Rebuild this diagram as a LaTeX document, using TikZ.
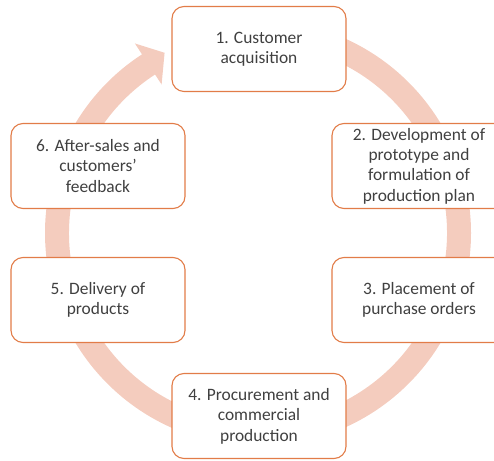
\documentclass[tikz,border=0pt]{standalone}
\usepackage{fontspec}
\setmainfont{Carlito}
\usepackage{xcolor}
\definecolor{stageline}{RGB}{226,124,72}
\definecolor{ringfill}{RGB}{244,204,190}
\definecolor{textgray}{RGB}{64,64,64}

\begin{document}
\begin{tikzpicture}[x=1pt,y=1pt,
    stage/.style={draw=stageline,line width=1.1pt,fill=white,rounded corners=12pt,
      minimum width=174pt,minimum height=85pt,align=center,text=textgray,
      font=\fontsize{17.4}{20.4}\selectfont}]
    % Page frame
    \useasboundingbox (0,0) rectangle (494,460);
    \clip (0,0) rectangle (494,460);

    % Cycle arrow behind the boxes (clockwise, head points to stage 1)
    \coordinate (hub) at (258,227);
    \fill[ringfill,shift={(hub)}] (90:213) arc[start angle=90,end angle=-237,radius=213]
      -- (123:226) -- (117.4:203) -- (123:177) -- (123:189)
      arc[start angle=-237,end angle=90,radius=189] -- cycle;

    % Stages
    \node[stage] (acq) at (259,411) {1. Customer\\acquisition};
    \node[stage] (proto) at (419,294) {2. Development of\\prototype and\\formulation of\\production plan};
    \node[stage] (orders) at (419,160) {3. Placement of\\purchase orders};
    \node[stage] (procure) at (259,44) {4. Procurement and\\commercial\\production};
    \node[stage] (deliv) at (98,160) {5. Delivery of\\products};
    \node[stage] (after) at (98,294) {6. After-sales and\\customers'\\feedback};
\end{tikzpicture}
\end{document}
